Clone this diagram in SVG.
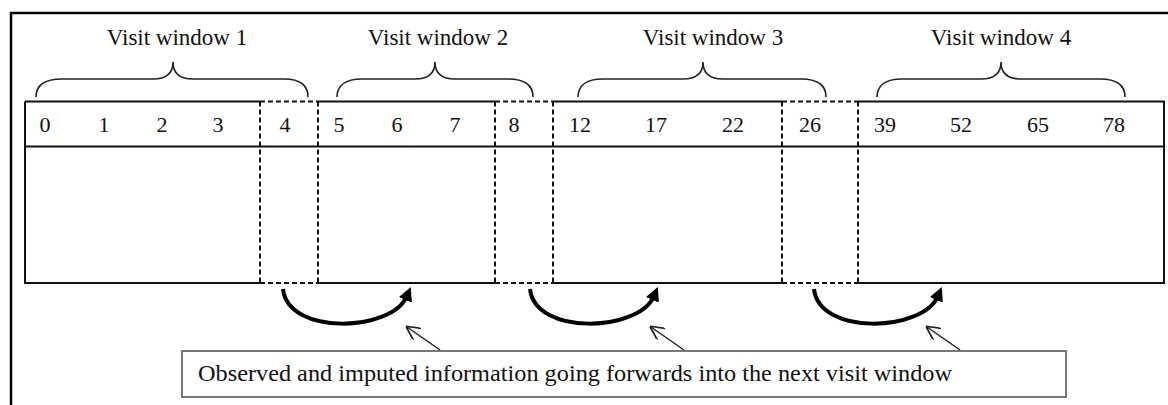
<svg xmlns="http://www.w3.org/2000/svg" width="1168" height="405" viewBox="0 0 1168 405">
<style>
.frame{stroke:#000;stroke-width:2.5;fill:none}
.solid{stroke:#111;stroke-width:2;fill:none}
.dash{stroke:#111;stroke-width:2;fill:none;stroke-dasharray:5,3}
.brace{stroke:#222;stroke-width:1.6;fill:none}
.title{font-family:"Liberation Serif",serif;font-size:23px;fill:#111;text-anchor:middle}
.num{font-family:"Liberation Serif",serif;font-size:22px;fill:#111;text-anchor:middle}
.big{stroke:#000;stroke-width:4;fill:none;marker-end:url(#head)}
.thin{stroke:#222;stroke-width:1.5;fill:none;marker-end:url(#open)}
.note{font-family:"Liberation Serif",serif;font-size:23px;fill:#111}
</style>
<defs>
<marker id="head" viewBox="0 0 10 10" refX="3" refY="5" markerWidth="14" markerHeight="14" markerUnits="userSpaceOnUse" orient="auto">
<path d="M0,0 L10,5 L0,10 z" fill="#000"/>
</marker>
<marker id="open" viewBox="0 0 10 10" refX="9" refY="5" markerWidth="14" markerHeight="14" markerUnits="userSpaceOnUse" orient="auto">
<path d="M0,0 L10,5 L0,10" fill="none" stroke="#222" stroke-width="1.2"/>
</marker>
</defs>
<rect width="1168" height="405" fill="#fff"/>
<g id="frame">
<path class="frame" d="M11,405 V13 H1168"/>
</g>
<g id="window1">
<text class="title" x="177" y="45">Visit window 1</text>
<path class="brace" d="M36,97 C36,86 44,79 62,79 L153,79 C166,79 173,73 173,62 C173,73 180,79 193,79 L284,79 C302,79 308,86 308,97"/>
</g>
<g id="window2">
<text class="title" x="438" y="45">Visit window 2</text>
<path class="brace" d="M337,97 C337,86 345,79 362,79 L415,79 C428,79 435,73 435,62 C435,73 442,79 455,79 L508,79 C526,79 533,86 533,97"/>
</g>
<g id="window3">
<text class="title" x="713" y="45">Visit window 3</text>
<path class="brace" d="M578,97 C578,86 586,79 603,79 L683,79 C696,79 703,73 703,62 C703,73 710,79 723,79 L801,79 C819,79 826,86 826,97"/>
</g>
<g id="window4">
<text class="title" x="1001" y="45">Visit window 4</text>
<path class="brace" d="M877,97 C877,86 885,79 902,79 L981,79 C994,79 1001,73 1001,62 C1001,73 1008,79 1021,79 L1100,79 C1118,79 1125,86 1125,97"/>
</g>
<g id="table">
<path class="solid" d="M25,101.5 H260 M318,101.5 H495 M553,101.5 H782 M858,101.5 H1164 V283 H858 M782,283 H553 M495,283 H318 M260,283 H25 V101.5 M25,146.5 H1164"/>
<path class="dash" d="M260,101.5 H318 M495,101.5 H553 M782,101.5 H858 M260,283 H318 M495,283 H553 M782,283 H858 M260,101.5 V283 M318,101.5 V283 M495,101.5 V283 M553,101.5 V283 M782,101.5 V283 M858,101.5 V283"/>
<text class="num" x="45" y="132">0</text>
<text class="num" x="104" y="132">1</text>
<text class="num" x="162" y="132">2</text>
<text class="num" x="218" y="132">3</text>
<text class="num" x="285" y="132">4</text>
<text class="num" x="339" y="132">5</text>
<text class="num" x="397" y="132">6</text>
<text class="num" x="455" y="132">7</text>
<text class="num" x="514" y="132">8</text>
<text class="num" x="580" y="132">12</text>
<text class="num" x="656" y="132">17</text>
<text class="num" x="733" y="132">22</text>
<text class="num" x="810" y="132">26</text>
<text class="num" x="885" y="132">39</text>
<text class="num" x="961" y="132">52</text>
<text class="num" x="1038" y="132">65</text>
<text class="num" x="1114" y="132">78</text>
</g>
<g id="connectors">
<path class="big" d="M283,289 C288,336 392,332 407,296"/>
<path class="big" d="M530,289 C535,336 639,332 654,296"/>
<path class="big" d="M814,289 C819,336 923,332 938,296"/>
<path class="thin" d="M440,350 L407,327"/>
<path class="thin" d="M684,350 L651,327"/>
<path class="thin" d="M960,350 L927,327"/>
</g>
<g id="note">
<rect x="182" y="351" width="884" height="46" fill="#fff" stroke="#555" stroke-width="1.6"/>
<text class="note" x="198" y="381" textLength="754" lengthAdjust="spacingAndGlyphs">Observed and imputed information going forwards into the next visit window</text>
</g>
</svg>
